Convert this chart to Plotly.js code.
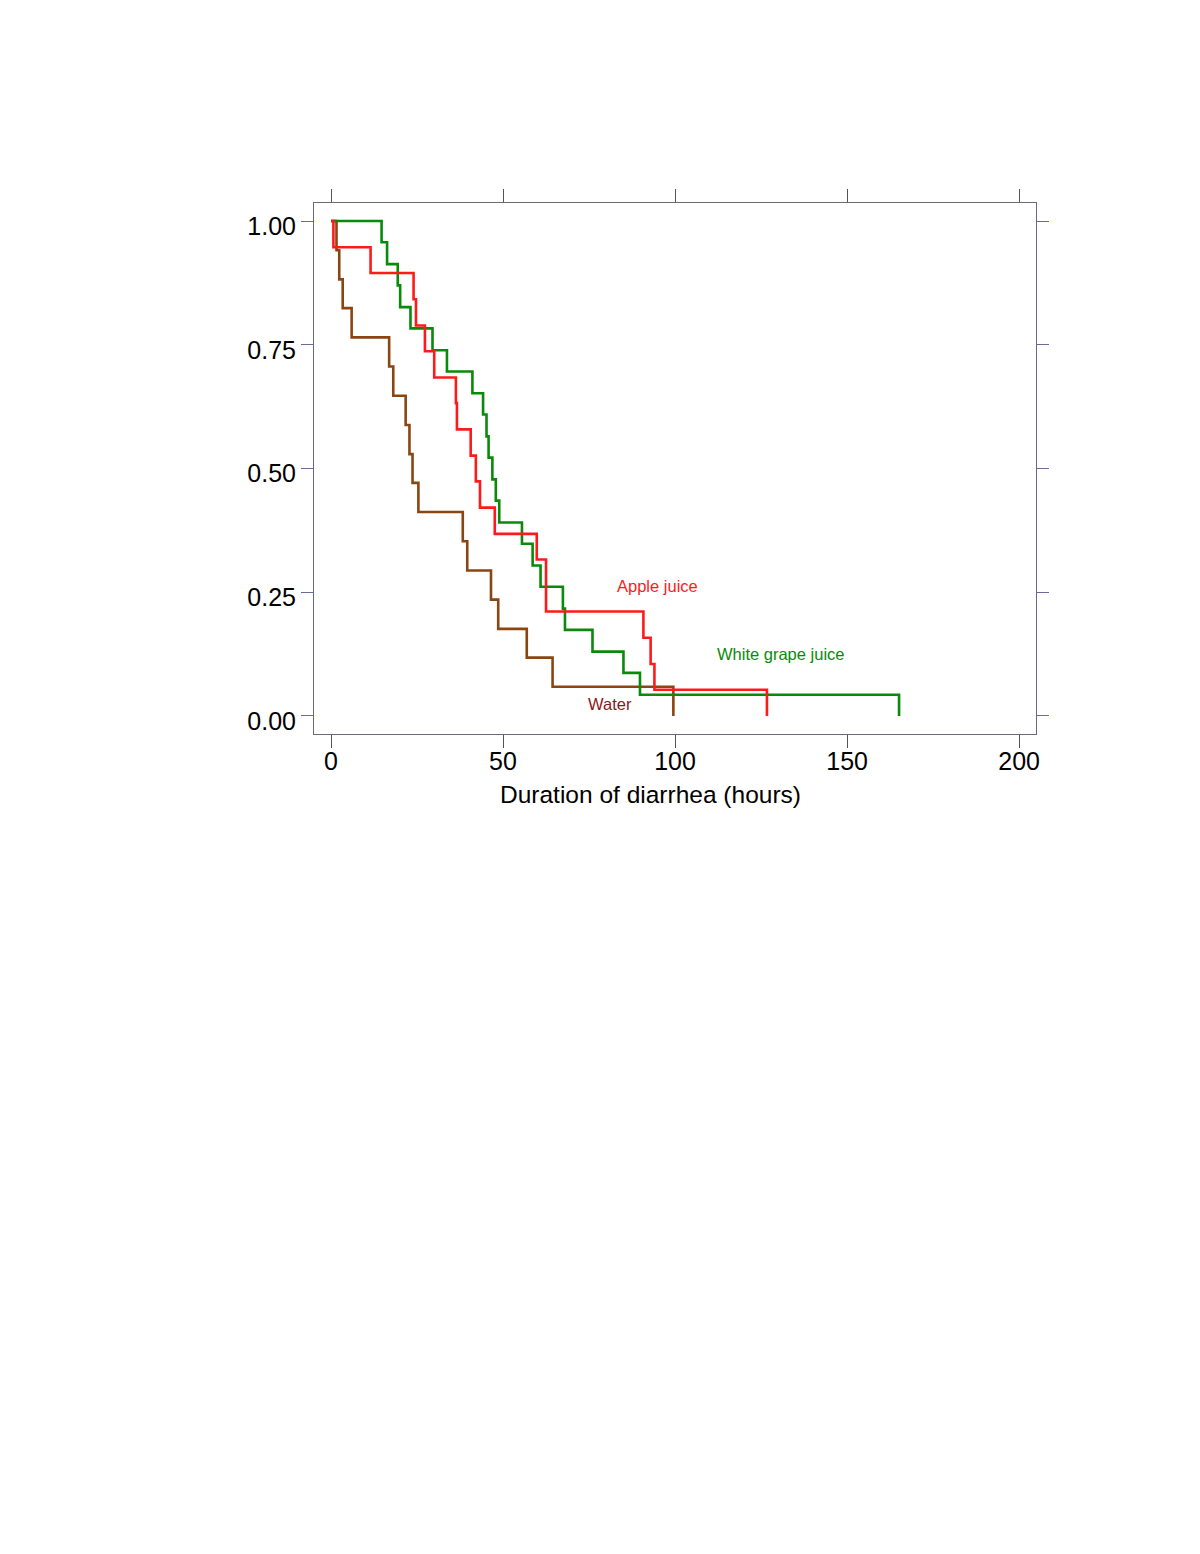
<!DOCTYPE html>
<html>
<head>
<meta charset="utf-8">
<script src="https://cdn.plot.ly/plotly-3.0.1.min.js"></script>
<style>html,body{margin:0;padding:0;background:#fff;}#chart{width:1200px;height:1554px;}</style>
</head>
<body>
<div id="chart"></div>
<script>
// Kaplan-Meier step data
const waterTime = [0, 1.6, 2.4, 3.4, 6.0, 16.9, 18.1, 21.7, 22.8, 23.7, 25.4, 38.3, 39.6, 46.5, 48.6, 56.9, 64.4, 99.5];
const waterSurv = [1, 0.941, 0.882, 0.824, 0.765, 0.706, 0.647, 0.588, 0.529, 0.471, 0.412, 0.353, 0.294, 0.235, 0.176, 0.118, 0.059, 0];

const appleTime = [0, 0.7, 11.5, 24.0, 24.7, 27.3, 30.0, 36.3, 36.6, 40.6, 42.1, 43.3, 47.6, 59.8, 62.5, 90.8, 92.9, 94.0, 126.7];
const appleSurv = [1, 0.947, 0.895, 0.842, 0.789, 0.737, 0.684, 0.632, 0.579, 0.526, 0.474, 0.421, 0.368, 0.316, 0.211, 0.158, 0.105, 0.053, 0];

const grapeTime = [0, 14.7, 16.3, 19.4, 20.1, 23.1, 29.5, 33.7, 41.1, 44.2, 45.2, 45.8, 46.9, 47.9, 48.9, 55.5, 58.6, 60.9, 67.4, 68.0, 76.0, 85.0, 89.8, 165.1];
const grapeSurv = [1, 0.957, 0.913, 0.870, 0.826, 0.783, 0.739, 0.696, 0.652, 0.609, 0.565, 0.522, 0.478, 0.435, 0.391, 0.348, 0.304, 0.261, 0.217, 0.174, 0.130, 0.087, 0.043, 0];

const xTicks = [0, 50, 100, 150, 200];
const yTicks = [0, 0.25, 0.5, 0.75, 1.0];
const yTickText = ["0.00", "0.25", "0.50", "0.75", "1.00"];

const seriesNames = ["Water", "White grape juice", "Apple juice"];
const labelX = [81.1, 130.7, 94.8];
const labelY = [0.024, 0.125, 0.263];

const FONT = "'Liberation Sans Narrow', 'Arial Narrow', 'Liberation Sans', Arial, sans-serif";

const traces = [
  {x: waterTime, y: waterSurv, name: seriesNames[0], mode: "lines", line: {shape: "hv", color: "#8B4513", width: 2.6}},
  {x: grapeTime, y: grapeSurv, name: seriesNames[1], mode: "lines", line: {shape: "hv", color: "#0a8a0a", width: 2.6}},
  {x: appleTime, y: appleSurv, name: seriesNames[2], mode: "lines", line: {shape: "hv", color: "#ff1a1a", width: 2.6}}
];

const labelColors = ["#8b1818", "#0a8a0a", "#ff1a1a"];
const annotations = seriesNames.map((n, i) => ({
  x: labelX[i], y: labelY[i], xref: "x", yref: "y", text: n, showarrow: false,
  xanchor: "center", yanchor: "middle", font: {family: FONT, size: 16.5, color: labelColors[i]}
}));
const plotTop = 203, plotBottom = 734;
annotations.push({
  x: 0.4654, y: (plotBottom - 794) / (plotBottom - plotTop), xref: "paper", yref: "paper",
  text: "Duration of diarrhea (hours)", showarrow: false,
  xanchor: "center", yanchor: "middle", font: {family: FONT, size: 24.5, color: "#000"}
});

const layout = {
  width: 1200, height: 1554,
  paper_bgcolor: "#fff", plot_bgcolor: "#fff",
  margin: {l: 314, r: 164, t: 203, b: 820},
  showlegend: false,
  font: {family: FONT, color: "#000"},
  xaxis: {
    range: [-4.94, 204.9], tickvals: xTicks, ticktext: xTicks.map(String),
    ticks: "outside", ticklen: 13, tickwidth: 1, tickcolor: "#555",
    showline: true, linecolor: "#6a6a7a", linewidth: 1, mirror: "ticks",
    showgrid: false, zeroline: false, ticklabelstandoff: -8,
    tickfont: {family: FONT, size: 25, color: "#000"}
  },
  yaxis: {
    range: [-0.0364, 1.0364], tickvals: yTicks, ticktext: yTickText,
    ticks: "outside", ticklen: 12, tickwidth: 1, tickcolor: "#6a6aa0",
    showline: true, linecolor: "#6a6a7a", linewidth: 1, mirror: "ticks",
    showgrid: false, zeroline: false, ticklabelshift: 5,
    tickfont: {family: FONT, size: 25, color: "#000"}
  },
  annotations: annotations
};

Plotly.newPlot("chart", traces, layout, {displayModeBar: false, staticPlot: true});
</script>
</body>
</html>
